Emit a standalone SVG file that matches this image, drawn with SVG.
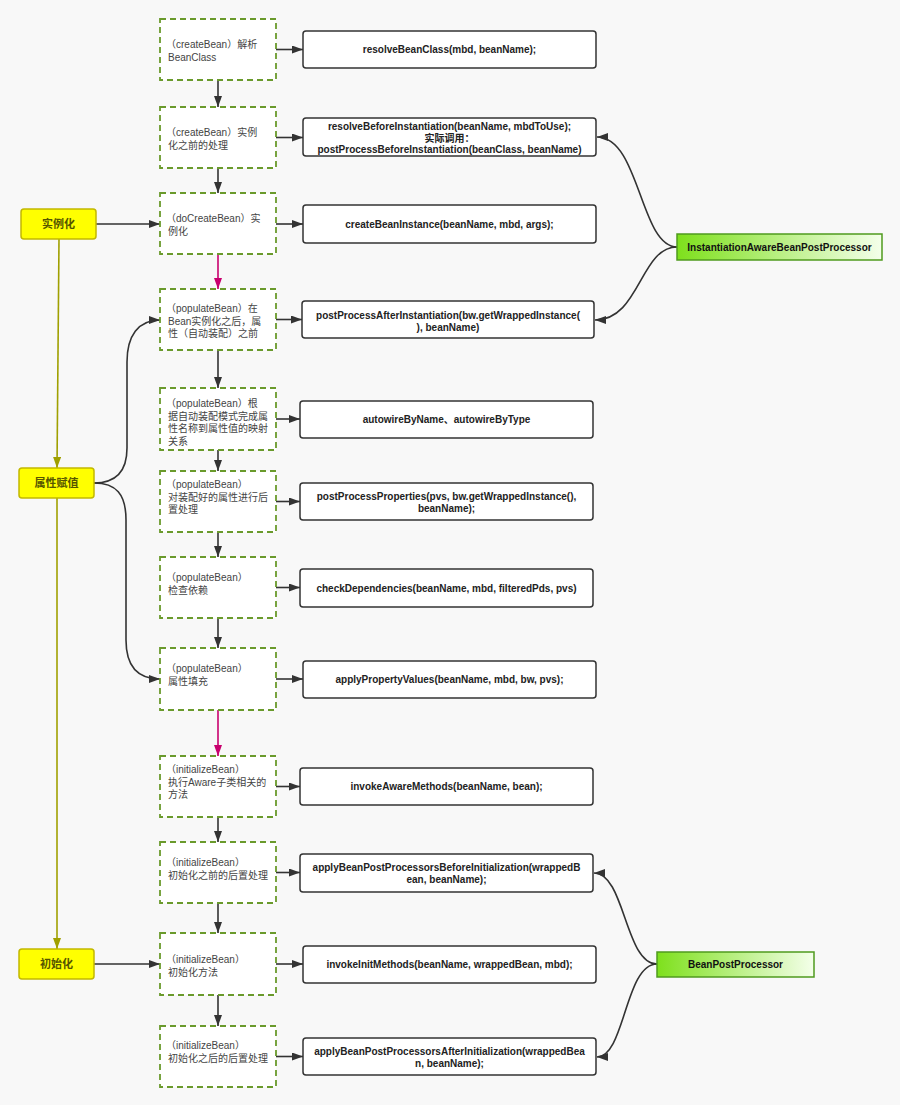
<svg xmlns="http://www.w3.org/2000/svg" width="900" height="1105" viewBox="0 0 900 1105">
<defs>
<marker id="ah" markerUnits="userSpaceOnUse" markerWidth="11" markerHeight="8" refX="11" refY="4" orient="auto"><path d="M0,0 L11,4 L0,8 z" fill="#333"/></marker>
<marker id="ahm" markerUnits="userSpaceOnUse" markerWidth="11" markerHeight="8" refX="11" refY="4" orient="auto"><path d="M0,0 L11,4 L0,8 z" fill="#c8006e"/></marker>
<marker id="ahy" markerUnits="userSpaceOnUse" markerWidth="11" markerHeight="8" refX="11" refY="4" orient="auto"><path d="M0,0 L11,4 L0,8 z" fill="#a0a000"/></marker>
<linearGradient id="gg" x1="0" y1="0" x2="1" y2="0"><stop offset="0" stop-color="#7ee01c"/><stop offset="1" stop-color="#f4ffea"/></linearGradient>
<style>
.dash{fill:#fff;stroke:#6a9a2c;stroke-width:1.8;stroke-dasharray:6,4}
.dt{font-family:"Liberation Sans","Noto Sans CJK SC",sans-serif;font-size:10px;fill:#444}
.rb{fill:#fff;stroke:#333;stroke-width:1.5}
.rt{font-family:"Liberation Sans","Noto Sans CJK SC",sans-serif;font-size:10px;font-weight:bold;fill:#222;text-anchor:middle}
.yb{fill:#ffff00;stroke:#c2b800;stroke-width:1.5}
.yt{font-family:"Noto Sans CJK SC",sans-serif;font-size:11px;font-weight:bold;fill:#555500;text-anchor:middle}
.gb{fill:url(#gg);stroke:#4f9a1e;stroke-width:1.5}
.gt{font-family:"Liberation Sans",sans-serif;font-size:10px;font-weight:bold;fill:#111;text-anchor:middle}
.c{fill:none;stroke:#333;stroke-width:1.6;marker-end:url(#ah)}
.cm{fill:none;stroke:#c8006e;stroke-width:1.6;marker-end:url(#ahm)}
.cy{fill:none;stroke:#a0a000;stroke-width:1.6;marker-end:url(#ahy)}
</style>
</defs>
<rect width="900" height="1105" fill="#f8f8f8"/>

<g id="connectors">
<path class="c" d="M276,49.5 L303,49.5"/>
<path class="c" d="M276,137.5 L303,137.5"/>
<path class="c" d="M276,224 L303,224"/>
<path class="c" d="M276,319.5 L302,319.5"/>
<path class="c" d="M276,419 L300,419"/>
<path class="c" d="M276,501.5 L300,501.5"/>
<path class="c" d="M276,587.5 L300,587.5"/>
<path class="c" d="M276,679 L303,679"/>
<path class="c" d="M276,786.5 L300,786.5"/>
<path class="c" d="M276,872.5 L300,872.5"/>
<path class="c" d="M276,964 L303,964"/>
<path class="c" d="M276,1056.5 L303,1056.5"/>

<path class="c" d="M218,80 L218,107"/>
<path class="c" d="M218,168 L218,193"/>
<path class="cm" d="M218,254 L218,289"/>
<path class="c" d="M218,350 L218,388"/>
<path class="c" d="M218,450 L218,471"/>
<path class="c" d="M218,532 L218,557"/>
<path class="c" d="M218,618 L218,648"/>
<path class="cm" d="M218,710 L218,756"/>
<path class="c" d="M218,817 L218,842"/>
<path class="c" d="M218,903 L218,933"/>
<path class="c" d="M218,995 L218,1026"/>

<path class="c" d="M96,224 L160,224"/>
<path class="c" d="M94,964 L160,964"/>
<path class="cy" d="M59,239 L57,468"/>
<path class="cy" d="M57,498 L57,949"/>

<path class="c" d="M94,483 C116,483 127,472 127,448 L127,362 C127,336 138,320 160,320"/>
<path class="c" d="M94,483 C116,483 126,494 126,520 L126,640 C126,666 138,679 160,679"/>

<path class="c" d="M677,247 C640,247 640,137 597,137"/>
<path class="c" d="M677,247 C640,247 640,320 595,320"/>
<path class="c" d="M657,964 C625,964 625,873 594,873"/>
<path class="c" d="M657,964 C625,964 625,1057 597,1057"/>
</g>

<g id="n-shilihua"><rect class="yb" x="21" y="209" width="75" height="30" rx="3"/><text class="yt" x="58.5" y="228">实例化</text></g>
<g id="n-shuxing"><rect class="yb" x="19" y="468" width="75" height="30" rx="3"/><text class="yt" x="56.5" y="487">属性赋值</text></g>
<g id="n-chushihua"><rect class="yb" x="19" y="949" width="75" height="30" rx="3"/><text class="yt" x="56.5" y="968">初始化</text></g>

<g id="d1"><rect class="dash" x="160" y="19" width="116" height="61"/><text class="dt" x="166" y="48">（createBean）解析<tspan x="168" dy="12.5">BeanClass</tspan></text></g>
<g id="d2"><rect class="dash" x="160" y="107" width="116" height="61"/><text class="dt" x="166" y="136">（createBean）实例<tspan x="168" dy="12.5">化之前的处理</tspan></text></g>
<g id="d3"><rect class="dash" x="160" y="193" width="116" height="61"/><text class="dt" x="166" y="222">（doCreateBean）实<tspan x="168" dy="12.5">例化</tspan></text></g>
<g id="d4"><rect class="dash" x="160" y="289" width="116" height="61"/><text class="dt" x="166" y="312">（populateBean）在<tspan x="168" dy="12.5">Bean实例化之后，属</tspan><tspan x="168" dy="12.5">性（自动装配）之前</tspan></text></g>
<g id="d5"><rect class="dash" x="160" y="388" width="116" height="62"/><text class="dt" x="166" y="407">（populateBean）根<tspan x="168" dy="12.5">据自动装配模式完成属</tspan><tspan x="168" dy="12.5">性名称到属性值的映射</tspan><tspan x="168" dy="12.5">关系</tspan></text></g>
<g id="d6"><rect class="dash" x="160" y="471" width="116" height="61"/><text class="dt" x="166" y="488">（populateBean）<tspan x="168" dy="12.5">对装配好的属性进行后</tspan><tspan x="168" dy="12.5">置处理</tspan></text></g>
<g id="d7"><rect class="dash" x="160" y="557" width="116" height="61"/><text class="dt" x="166" y="581">（populateBean）<tspan x="168" dy="12.5">检查依赖</tspan></text></g>
<g id="d8"><rect class="dash" x="160" y="648" width="116" height="62"/><text class="dt" x="166" y="672">（populateBean）<tspan x="168" dy="12.5">属性填充</tspan></text></g>
<g id="d9"><rect class="dash" x="160" y="756" width="116" height="61"/><text class="dt" x="166" y="773">（initializeBean）<tspan x="168" dy="12.5">执行Aware子类相关的</tspan><tspan x="168" dy="12.5">方法</tspan></text></g>
<g id="d10"><rect class="dash" x="160" y="842" width="116" height="61"/><text class="dt" x="166" y="866">（initializeBean）<tspan x="168" dy="12.5">初始化之前的后置处理</tspan></text></g>
<g id="d11"><rect class="dash" x="160" y="933" width="116" height="62"/><text class="dt" x="166" y="963">（initializeBean）<tspan x="168" dy="12.5">初始化方法</tspan></text></g>
<g id="d12"><rect class="dash" x="160" y="1026" width="116" height="61"/><text class="dt" x="166" y="1049">（initializeBean）<tspan x="168" dy="12.5">初始化之后的后置处理</tspan></text></g>

<g id="r1"><rect class="rb" x="303" y="31" width="293" height="37" rx="3"/><text class="rt" x="449.5" y="53">resolveBeanClass(mbd, beanName);</text></g>
<g id="r2"><rect class="rb" x="303" y="118" width="293" height="38" rx="3"/><text class="rt" x="449.5" y="130">resolveBeforeInstantiation(beanName, mbdToUse);<tspan x="449.5" dy="11.5">实际调用：</tspan><tspan x="449.5" dy="11.5">postProcessBeforeInstantiation(beanClass, beanName)</tspan></text></g>
<g id="r3"><rect class="rb" x="303" y="205" width="293" height="38" rx="3"/><text class="rt" x="449.5" y="227.5">createBeanInstance(beanName, mbd, args);</text></g>
<g id="r4"><rect class="rb" x="302" y="301" width="292" height="37" rx="3"/><text class="rt" x="448" y="318.5">postProcessAfterInstantiation(bw.getWrappedInstance(<tspan x="448" dy="12">), beanName)</tspan></text></g>
<g id="r5"><rect class="rb" x="300" y="401" width="293" height="37" rx="3"/><text class="rt" x="446.5" y="423">autowireByName、autowireByType</text></g>
<g id="r6"><rect class="rb" x="300" y="483" width="293" height="37" rx="3"/><text class="rt" x="446.5" y="500">postProcessProperties(pvs, bw.getWrappedInstance(),<tspan x="446.5" dy="12">beanName);</tspan></text></g>
<g id="r7"><rect class="rb" x="300" y="569" width="293" height="38" rx="3"/><text class="rt" x="446.5" y="591.5">checkDependencies(beanName, mbd, filteredPds, pvs)</text></g>
<g id="r8"><rect class="rb" x="303" y="661" width="293" height="37" rx="3"/><text class="rt" x="449.5" y="683">applyPropertyValues(beanName, mbd, bw, pvs);</text></g>
<g id="r9"><rect class="rb" x="300" y="768" width="293" height="37" rx="3"/><text class="rt" x="446.5" y="790">invokeAwareMethods(beanName, bean);</text></g>
<g id="r10"><rect class="rb" x="300" y="854" width="293" height="38" rx="3"/><text class="rt" x="446.5" y="871">applyBeanPostProcessorsBeforeInitialization(wrappedB<tspan x="446.5" dy="12">ean, beanName);</tspan></text></g>
<g id="r11"><rect class="rb" x="303" y="946" width="293" height="37" rx="3"/><text class="rt" x="449.5" y="968">invokeInitMethods(beanName, wrappedBean, mbd);</text></g>
<g id="r12"><rect class="rb" x="303" y="1038" width="293" height="37" rx="3"/><text class="rt" x="449.5" y="1055">applyBeanPostProcessorsAfterInitialization(wrappedBea<tspan x="449.5" dy="12">n, beanName);</tspan></text></g>

<g id="g-iabpp"><rect class="gb" x="677" y="234" width="205" height="26"/><text class="gt" x="779.5" y="251">InstantiationAwareBeanPostProcessor</text></g>
<g id="g-bpp"><rect class="gb" x="657" y="952" width="157" height="25"/><text class="gt" x="735.5" y="968">BeanPostProcessor</text></g>
</svg>
